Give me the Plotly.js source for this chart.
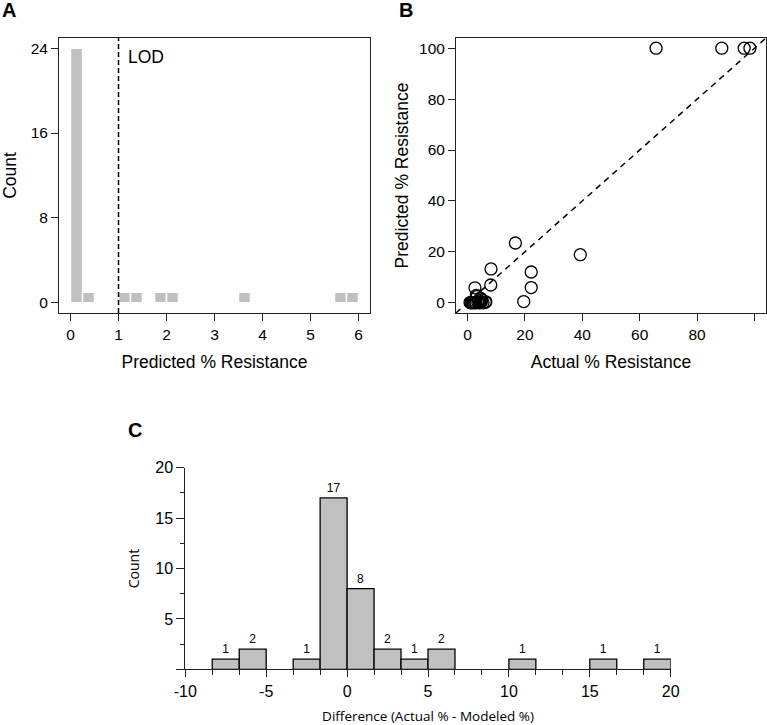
<!DOCTYPE html>
<html>
<head>
<meta charset="utf-8">
<script src="https://cdn.plot.ly/plotly-3.0.1.min.js"></script>
<style>
  html, body { margin: 0; padding: 0; background: #fff; }
  #plot { width: 767px; height: 725px; }
</style>
</head>
<body>
<div id="plot"></div>
<script>
// Panel A: histogram of predicted % resistance (bin start, count)
const aBinStart = [0, 0.25, 1.0, 1.25, 1.75, 2.0, 3.5, 5.5, 5.75];
const aCounts = [24, 1, 1, 1, 1, 1, 1, 1, 1];
const aBinWidth = 0.25;
const lodValue = 1;

// Panel B: actual vs predicted % resistance
const bActual = [65.7, 88.6, 96.4, 98.4,
  16.7, 39.3, 8.2, 22.2, 8.1, 22.2, 2.6, 19.6,
  3.1, 3.3, 4.6, 5.0, 3.9, 0.9, 1.2, 1.5, 2.0, 2.4, 3.0, 3.6, 4.2, 4.8, 5.4, 6.2, 6.4, 1.8, 2.8, 4.4];
const bPredicted = [100, 100, 100, 100,
  23.5, 18.9, 13.3, 12.1, 7.0, 6.0, 5.9, 0.5,
  2.9, 2.4, 1.7, 1.2, 0.8, 0.1, 0, 0.2, 0, 0.1, 0, 0.2, 0, 0.3, 0, 0.2, 0.4, 0.1, 0.2, 0.1];
const identityLine = [-4, 104];

// Panel C: histogram of difference (bin start, count)
const cBinStart = [-8.333, -6.667, -3.333, -1.667, 0, 1.667, 3.333, 5, 10, 15, 18.333];
const cCounts = [1, 2, 1, 17, 8, 2, 1, 2, 1, 1, 1];
const cBinWidth = 1.667;
const cTickVals = [-10, -5, 0, 5, 10, 15, 20];
const cTickText = ['-10', '-5', '0', '5', '10', '15', '20'];

const sans = 'Liberation Sans, Arial, sans-serif';
const myriad = 'Open Sans, Lato, sans-serif';
const W = 767, H = 725;
const px = v => v / W;
const py = v => 1 - v / H;

const traceA = {
  type: 'bar', x: aBinStart, y: aCounts, width: aBinWidth, offset: 0,
  marker: { color: '#c0c0c0', line: { color: '#ffffff', width: 1.5 } },
  xaxis: 'x', yaxis: 'y', hoverinfo: 'skip'
};

const lodTrace = {
  type: 'scatter', mode: 'lines', x: [lodValue, lodValue], y: [-0.96, 24.96],
  line: { color: '#000', width: 1.5, dash: '5px,3px' }, xaxis: 'x', yaxis: 'y'
};

const traceB = {
  type: 'scatter', mode: 'markers', x: bActual, y: bPredicted,
  marker: { symbol: 'circle-open', size: 12, color: '#000', line: { width: 1.3, color: '#000' } },
  xaxis: 'x2', yaxis: 'y2', cliponaxis: false
};

const diagB = {
  type: 'scatter', mode: 'lines', x: identityLine, y: identityLine,
  line: { color: '#000', width: 1.5, dash: '6px,5px' }, xaxis: 'x2', yaxis: 'y2'
};

const traceC = {
  type: 'bar', x: cBinStart, y: cCounts, width: cBinWidth, offset: 0,
  text: cCounts.map(String), textposition: 'outside', cliponaxis: false,
  textfont: { family: sans, size: 12, color: '#000' },
  marker: { color: '#c0c0c0', line: { color: '#000', width: 1.3 } },
  xaxis: 'x3', yaxis: 'y3', hoverinfo: 'skip'
};

const baseAxis = {
  showgrid: false, zeroline: false, showline: true, linecolor: '#222', linewidth: 1,
  ticks: 'outside', ticklen: 7, tickcolor: '#222',
  tickfont: { family: sans, size: 15.5, color: '#000' }
};

const layout = {
  width: W, height: H,
  margin: { l: 0, r: 0, t: 0, b: 0 },
  paper_bgcolor: '#fff', plot_bgcolor: '#fff',
  showlegend: false,
  bargap: 0,
  xaxis: Object.assign({}, baseAxis, {
    domain: [px(59), px(370)], range: [-0.24, 6.24], mirror: true,
    tickvals: [0, 1, 2, 3, 4, 5, 6], anchor: 'y',
    title: { text: 'Predicted % Resistance', font: { family: sans, size: 17.5, color: '#000' }, standoff: 14 }
  }),
  yaxis: Object.assign({}, baseAxis, {
    domain: [py(313), py(38)], range: [-0.96, 24.96], mirror: true,
    tickvals: [0, 8, 16, 24], anchor: 'x',
    title: { text: 'Count', font: { family: sans, size: 17.5, color: '#000' }, standoff: 11 }
  }),
  xaxis2: Object.assign({}, baseAxis, {
    domain: [px(456), px(766)], range: [-4, 104], mirror: true,
    tickvals: [0, 20, 40, 60, 80, 100], anchor: 'y2',
    title: { text: 'Actual % Resistance', font: { family: sans, size: 17.5, color: '#000' }, standoff: 14 }
  }),
  yaxis2: Object.assign({}, baseAxis, {
    domain: [py(313), py(38)], range: [-4, 104], mirror: true,
    tickvals: [0, 20, 40, 60, 80, 100], anchor: 'x2',
    title: { text: 'Predicted % Resistance', font: { family: sans, size: 17.5, color: '#000' }, standoff: 5 }
  }),
  xaxis3: Object.assign({}, baseAxis, {
    domain: [px(185.3), px(670.7)], range: [-10, 20], anchor: 'y3',
    tickvals: cTickVals, ticktext: cTickText, ticklen: 7,
    tickfont: { family: sans, size: 16, color: '#000' },
    minor: { tick0: -10, dtick: 5 / 3, ticks: 'outside', ticklen: 5, tickcolor: '#222' },
    title: { text: 'Difference (Actual % - Modeled %)', font: { family: myriad, size: 13.5, color: '#000' }, standoff: 13 }
  }),
  yaxis3: Object.assign({}, baseAxis, {
    domain: [py(669.3), py(467.7)], range: [0, 20], anchor: 'x3',
    tickvals: [0, 5, 10, 15, 20], ticktext: ['', '5', '10', '15', '20'], ticklen: 8,
    tickfont: { family: sans, size: 16, color: '#000' },
    minor: { dtick: 2.5, ticks: 'outside', ticklen: 4, tickcolor: '#222' },
    title: { text: 'Count', font: { family: myriad, size: 14, color: '#000' }, standoff: 12 }
  }),
  annotations: [
    { text: 'LOD', x: 1.15, y: 23.2, xref: 'x', yref: 'y', xanchor: 'left', yanchor: 'middle',
      showarrow: false, font: { family: sans, size: 17.5, color: '#000' } },
    { text: '<b>A</b>', x: px(0), y: py(10), xref: 'paper', yref: 'paper', xanchor: 'left', yanchor: 'middle',
      showarrow: false, font: { family: sans, size: 20, color: '#000' } },
    { text: '<b>B</b>', x: px(397), y: py(10), xref: 'paper', yref: 'paper', xanchor: 'left', yanchor: 'middle',
      showarrow: false, font: { family: sans, size: 20, color: '#000' } },
    { text: '<b>C</b>', x: px(126), y: py(430), xref: 'paper', yref: 'paper', xanchor: 'left', yanchor: 'middle',
      showarrow: false, font: { family: sans, size: 20, color: '#000' } }
  ]
};

Plotly.newPlot('plot', [traceA, lodTrace, diagB, traceB, traceC], layout, { displayModeBar: false, staticPlot: true });
</script>
</body>
</html>
